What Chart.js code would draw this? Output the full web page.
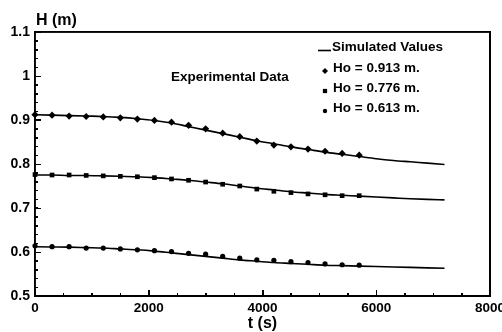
<!DOCTYPE html>
<html>
<head>
<meta charset="utf-8">
<script src="https://cdn.jsdelivr.net/npm/chart.js@4.4.1/dist/chart.umd.min.js"></script>
<style>
  html, body { margin: 0; padding: 0; background: #fff; }
  #wrap { position: relative; width: 502px; height: 332px; }
  #chart { position: absolute; left: 0; top: 0; }
  #box { position: absolute; box-sizing: border-box; border: 1.5px solid #000; pointer-events: none; }
</style>
</head>
<body>
<div id="wrap">
  <canvas id="chart" width="502" height="332"></canvas>
  <div id="box"></div>
</div>
<script>
// experimental data, every 300 s
const expTimes = [0, 300, 600, 900, 1200, 1500, 1800, 2100, 2400, 2700, 3000, 3300, 3600, 3900, 4200, 4500, 4800, 5100, 5400, 5700];
const exp913 = [0.912, 0.911, 0.909, 0.908, 0.907, 0.905, 0.902, 0.899, 0.895, 0.888, 0.880, 0.870, 0.862, 0.852, 0.843, 0.839, 0.834, 0.829, 0.824, 0.820];
const exp776 = [0.776, 0.775, 0.775, 0.774, 0.773, 0.772, 0.771, 0.769, 0.766, 0.763, 0.759, 0.754, 0.750, 0.743, 0.738, 0.735, 0.732, 0.730, 0.728, 0.728];
const exp613 = [0.614, 0.612, 0.612, 0.609, 0.609, 0.607, 0.605, 0.603, 0.601, 0.597, 0.595, 0.590, 0.586, 0.582, 0.581, 0.578, 0.576, 0.573, 0.571, 0.570];

// simulated curves
const simTimes = [0, 300, 600, 900, 1200, 1500, 1800, 2100, 2400, 2700, 3000, 3300, 3600, 3900, 4200, 4500, 4800, 5100, 5400, 5700, 6000, 6300, 6600, 6900, 7200];
const sim913 = [0.912, 0.911, 0.910, 0.909, 0.908, 0.906, 0.903, 0.899, 0.893, 0.885, 0.877, 0.869, 0.861, 0.853, 0.846, 0.839, 0.833, 0.827, 0.822, 0.817, 0.812, 0.808, 0.805, 0.802, 0.799];
const sim776 = [0.775, 0.775, 0.774, 0.774, 0.773, 0.772, 0.771, 0.769, 0.766, 0.763, 0.759, 0.755, 0.750, 0.745, 0.741, 0.737, 0.734, 0.731, 0.729, 0.727, 0.725, 0.723, 0.721, 0.7195, 0.7185];
const sim613 = [0.612, 0.6115, 0.611, 0.610, 0.609, 0.607, 0.605, 0.602, 0.598, 0.594, 0.590, 0.586, 0.582, 0.579, 0.576, 0.574, 0.572, 0.570, 0.569, 0.568, 0.567, 0.566, 0.565, 0.564, 0.563];

const xTickLabels = ['0', '2000', '4000', '6000', '8000'];
const yTickLabels = ['0.5', '0.6', '0.7', '0.8', '0.9', '1', '1.1'];

const legendItems = ['Ho = 0.913 m.', 'Ho = 0.776 m.', 'Ho = 0.613 m.'];
const legendMarks = ['rectRot', 'rect', 'circle'];

const pts = (xs, ys) => xs.map((x, i) => ({ x: x, y: ys[i] }));
const FONT = '"Liberation Sans", Arial, sans-serif';

function simSet(ys) {
  return {
    data: pts(simTimes, ys), showLine: true, borderColor: '#000', borderWidth: 1.6,
    pointRadius: 0, cubicInterpolationMode: 'monotone', fill: false, clip: false
  };
}
function expSet(ys, style, r) {
  return {
    data: pts(expTimes, ys), showLine: false, pointStyle: style, clip: false,
    pointRadius: r, backgroundColor: '#000', borderColor: '#000', borderWidth: 0
  };
}

// axis with inward ticks (negative tick length); labels come from the arrays
function axis(pos, min, max, step, len, weight, labels, size) {
  const horiz = pos === 'top' || pos === 'bottom';
  return {
    type: 'linear', position: pos, min: min, max: max, weight: weight,
    afterFit: s => {
      if (horiz) { s.height = size; s.paddingLeft = 0; s.paddingRight = 0; }
      else { s.width = size; }
    },
    afterTickToLabelConversion: s => {
      s.ticks.forEach((t, i) => { t.label = labels ? labels[i] : ''; });
    },
    grid: { drawOnChartArea: false, drawTicks: len !== 0, tickLength: -len, color: '#000', tickWidth: 1 },
    border: { display: weight === 1, color: '#000', width: 1.6 },
    ticks: {
      display: !!labels, stepSize: step, color: '#000', autoSkip: false,
      padding: horiz ? 10 : 11,
      font: { family: FONT, size: horiz ? 13.5 : 14, weight: 'bold' }
    }
  };
}

// titles, legend, then frame and inward ticks
const decor = {
  id: 'decor',
  afterDraw(chart) {
    const c = chart.ctx, a = chart.chartArea;
    const sx = chart.scales.x, sy = chart.scales.y;
    c.save();
    c.fillStyle = '#000';
    c.strokeStyle = '#000';
    c.font = 'bold 16px ' + FONT;
    c.textBaseline = 'alphabetic';
    c.textAlign = 'left';
    c.fillText('H (m)', 36, 25);
    c.textAlign = 'center';
    c.fillText('t (s)', (a.left + a.right) / 2, 328);

    c.font = 'bold 13.5px ' + FONT;
    c.textAlign = 'left';
    c.textBaseline = 'middle';
    c.fillText('Experimental Data', 171, 77);
    c.fillText('Simulated Values', 332, 47);
    c.lineWidth = 1.6;
    c.beginPath(); c.moveTo(318, 50.5); c.lineTo(331, 50.5); c.stroke();
    legendItems.forEach((t, i) => {
      const y = 68 + i * 20;
      c.fillText(t, 333, y);
      Chart.helpers.drawPoint(c, { pointStyle: legendMarks[i], radius: legendMarks[i] === 'circle' ? 2.2 : 3, borderWidth: 0 }, 325, y + 3);
    });

    c.lineWidth = 1.6;
    c.strokeRect(a.left, a.top, a.right - a.left, a.bottom - a.top);
    c.lineWidth = 1;
    for (let i = 0; i <= 30; i++) {
      const py = Math.round(sy.getPixelForValue(0.5 + i * 0.02)) + 0.5;
      c.beginPath();
      c.moveTo(a.left, py);
      c.lineTo(a.left + (i % 5 === 0 ? 6 : 3), py);
      c.stroke();
    }
    for (let i = 0; i <= 16; i++) {
      const px = Math.round(sx.getPixelForValue(i * 500)) + 0.5;
      c.beginPath();
      c.moveTo(px, a.bottom);
      c.lineTo(px, a.bottom - (i % 4 === 0 ? 6 : 3));
      c.stroke();
    }
    c.restore();
  }
};

const chart = new Chart(document.getElementById('chart'), {
  type: 'scatter',
  data: {
    datasets: [
      simSet(sim913), simSet(sim776), simSet(sim613),
      expSet(exp913, 'rectRot', 3.6),
      expSet(exp776, 'rect', 3.3),
      expSet(exp613, 'circle', 2.6)
    ]
  },
  options: {
    responsive: false,
    animation: false,
    layout: { padding: { top: 32, right: 12, left: 0, bottom: 0 } },
    plugins: { legend: { display: false }, tooltip: { enabled: false } },
    scales: {
      x: axis('bottom', 0, 8000, 2000, 6, 1, xTickLabels, 36),
      xMinor: axis('bottom', 0, 8000, 500, 3, 0, null, 0),
      xTop: axis('top', 0, 8000, 2000, 0, 1, null, 0),
      y: axis('left', 0.5, 1.1, 0.1, 6, 1, yTickLabels, 35),
      yMinor: axis('left', 0.5, 1.1, 0.02, 3, 0, null, 0),
      yRight: axis('right', 0.5, 1.1, 0.1, 0, 1, null, 0)
    }
  },
  plugins: [decor]
});

// frame box placed from the chart area as a fallback outline
const area = chart.chartArea;
const box = document.getElementById('box');
box.style.left = (area.left - 0.75) + 'px';
box.style.top = (area.top - 0.75) + 'px';
box.style.width = (area.right - area.left + 1.5) + 'px';
box.style.height = (area.bottom - area.top + 1.5) + 'px';
</script>
</body>
</html>
